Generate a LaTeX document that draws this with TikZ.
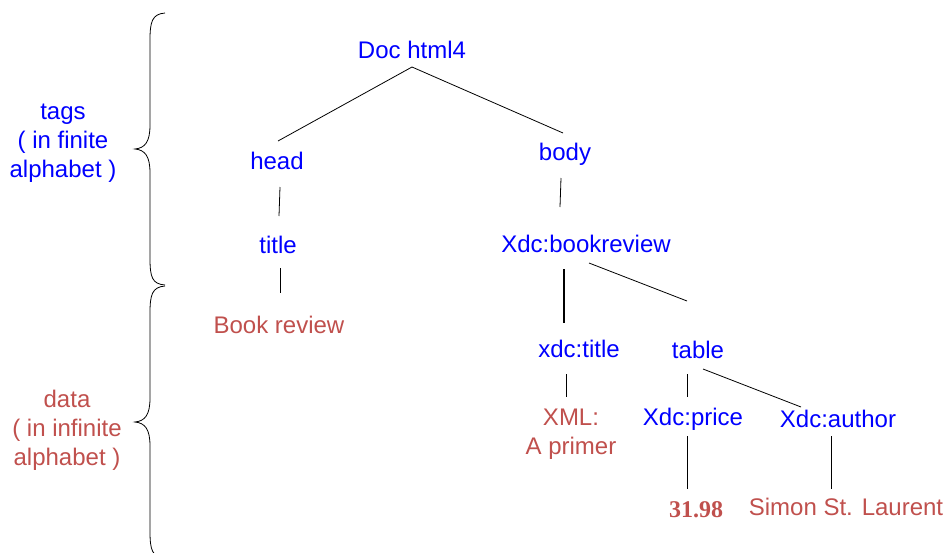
\documentclass[tikz,border=0pt]{standalone}
\usepackage{fontspec}
\setmainfont{Liberation Sans}
\newfontfamily\numfont{Liberation Serif}
\usetikzlibrary{calc}
\definecolor{tagblue}{RGB}{0,0,255}
\definecolor{datared}{RGB}{192,80,77}
\begin{document}
\begin{tikzpicture}[x=1pt,y=-1pt,
  every node/.style={inner sep=0pt,anchor=base,font=\fontsize{24}{28.8}\selectfont},
  tag/.style={text=tagblue},
  datum/.style={text=datared},
  edge/.style={draw=black,line width=0.8pt},
  thickedge/.style={draw=black,line width=1.8pt}]
\useasboundingbox (0,0) rectangle (947,552);

% side labels (base anchor = baseline of the last line)
\node[tag,align=center] (tags) at (63,177) {tags\\( in finite\\alphabet )};
\node[datum,align=center] (data) at (67,465) {data\\( in infinite\\alphabet )};

% braces
\draw[line width=0.8pt] (165,13) .. controls (152,14) and (150,22) .. (150,40)
  -- (150,125) .. controls (150,142) and (145,148) .. (135,149)
  .. controls (145,150) and (150,156) .. (150,173)
  -- (150,258) .. controls (150,277) and (152,284) .. (165,285);
\draw[line width=0.8pt] (165,286) .. controls (152,287) and (150,295) .. (150,313)
  -- (150,398) .. controls (150,415) and (145,421) .. (135,422)
  .. controls (145,423) and (150,429) .. (150,446)
  -- (150,531) .. controls (150,550) and (152,557) .. (165,558);

% tree nodes
\node[tag] (doc) at (412,58) {Doc html4};
\node[tag] (head) at (277,169) {head};
\node[tag] (body) at (565,160) {body};
\node[tag] (title) at (278,253) {title};
\node[datum] (bookrev) at (279,333) {Book review};
\node[tag] (xbook) at (586,252) {Xdc:bookreview};
\node[tag] (xtitle) at (579,357) {xdc:title};
\node[tag] (table) at (698,358) {table};
\node[datum,align=center] (xml) at (571,454) {XML:\\A primer};
\node[tag] (price) at (693,425) {Xdc:price};
\node[tag] (author) at (838,427) {Xdc:author};
\node[datum,font=\fontsize{24}{28.8}\numfont\bfseries] (num) at (696,517) {31.98};
\node[datum] (simon) at (846,515) {Simon St. Laurent};

% connectors
\draw[edge] ($(doc.base)+(0,9)$) -- ($(head.base)+(1,-28)$);
\draw[edge] ($(doc.base)+(0,9)$) -- ($(body.base)+(-2,-27)$);
\draw[edge] ($(head.base)+(3,18)$) -- ($(title.base)+(1,-37)$);
\draw[edge] ($(body.base)+(-4,18)$) -- ($(xbook.base)+(-26,-45)$);
\draw[edge] ($(title.base)+(2,15)$) -- ($(bookrev.base)+(1,-40)$);
\draw[thickedge] ($(xbook.base)+(-22,17)$) -- ($(xtitle.base)+(-15,-34)$);
\draw[edge] ($(xbook.base)+(3,11)$) -- ($(table.base)+(-11,-57)$);
\draw[edge] ($(xtitle.base)+(-13,17)$) -- ($(xml.base)+(-5,-57)$);
\draw[edge] ($(table.base)+(-11,16)$) -- ($(price.base)+(-6,-28)$);
\draw[edge] ($(table.base)+(5,11)$) -- ($(author.base)+(-37,-20)$);
\draw[edge] ($(price.base)+(-6,11)$) -- ($(num.base)+(-9,-28)$);
\draw[edge] ($(author.base)+(-7,9)$) -- ($(simon.base)+(-15,-26)$);
\end{tikzpicture}
\end{document}
